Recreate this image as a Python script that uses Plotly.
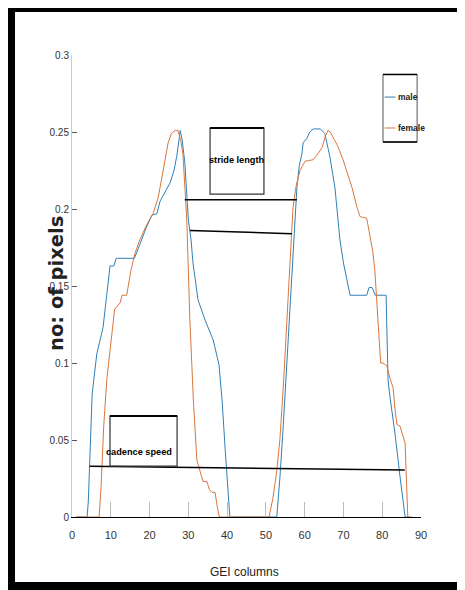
import plotly.graph_objects as go

# ---- data ----
male_x = [1, 3.9, 4.2, 4.6, 5.2, 6.4, 8.0, 9.0, 9.8, 10.8, 11.4, 12.1, 16.1, 17.5, 19.0,
          20.6, 21.9, 22.7, 24.0, 25.3, 26.3, 27.0, 27.5, 27.9, 28.4, 29.1, 30.0, 30.7,
          31.2, 32.5, 34.3, 36.4, 37.9, 38.7, 39.5, 40.7, 52.8, 53.6, 54.5, 55.4, 56.2,
          57.1, 58.0, 58.6, 59.3, 59.6, 60.6, 61.3, 62.2, 64.0, 65.2, 66.5, 67.8, 69.1,
          70.0, 70.9, 71.7, 76.0, 76.6, 77.4, 78.2, 81.0, 81.3, 81.5, 82.0, 83.3, 84.6,
          85.9, 87.0]
male_y = [0, 0, 0.01, 0.037, 0.08, 0.106, 0.123, 0.145, 0.163, 0.163, 0.168, 0.168, 0.168,
          0.177, 0.187, 0.196, 0.197, 0.205, 0.211, 0.217, 0.225, 0.234, 0.243, 0.251,
          0.245, 0.23, 0.193, 0.18, 0.165, 0.141, 0.128, 0.115, 0.099, 0.076, 0.044, 0,
          0, 0.025, 0.06, 0.1, 0.141, 0.18, 0.214, 0.228, 0.236, 0.243, 0.246, 0.25,
          0.252, 0.252, 0.249, 0.234, 0.214, 0.18, 0.165, 0.154, 0.144, 0.144, 0.149,
          0.149, 0.144, 0.144, 0.1, 0.089, 0.078, 0.054, 0.026, 0, 0]

female_x = [1, 7.0, 7.5, 8.2, 9.0, 10.3, 11.0, 12.4, 12.9, 14.1, 15.2, 16.2, 17.5, 19.3,
            20.9, 22.2, 23.5, 24.8, 25.6, 26.6, 27.3, 28.0, 28.6, 29.1, 29.6, 30.4, 30.9,
            31.3, 32.2, 33.0, 33.8, 34.8, 35.4, 36.1, 36.9, 37.5, 38.0, 50.8, 51.8, 52.8,
            53.6, 54.5, 55.4, 56.2, 57.0, 57.8, 58.8, 60.1, 62.2, 63.2, 64.5, 65.3, 66.0,
            66.6, 67.3, 68.5, 69.9, 71.0, 72.2, 73.5, 74.3, 76.0, 76.8, 77.6, 78.1, 78.6,
            79.0, 79.6, 80.2, 81.2, 82.0, 82.8, 83.3, 83.8, 84.6, 85.9, 86.3, 86.6, 87.6]
female_y = [0, 0, 0.02, 0.06, 0.09, 0.121, 0.135, 0.139, 0.144, 0.144, 0.16, 0.171, 0.18,
            0.19, 0.197, 0.207, 0.225, 0.243, 0.249, 0.251, 0.251, 0.245, 0.236, 0.215,
            0.193, 0.128, 0.1, 0.076, 0.037, 0.029, 0.023, 0.023, 0.018, 0.016, 0.016,
            0.006, 0, 0, 0.012, 0.03, 0.05, 0.085, 0.128, 0.17, 0.201, 0.215, 0.225, 0.231,
            0.232, 0.235, 0.24, 0.247, 0.251, 0.25, 0.247, 0.241, 0.232, 0.224, 0.214,
            0.201, 0.195, 0.194, 0.182, 0.172, 0.16, 0.14, 0.13, 0.1, 0.1, 0.098, 0.09,
            0.084, 0.07, 0.06, 0.059, 0.048, 0.02, 0, 0]

stride_line1_x = [29.1, 58.0]
stride_line1_y = [0.206, 0.206]
stride_line2_x = [30.4, 56.7]
stride_line2_y = [0.186, 0.184]
cadence_line_x = [4.6, 85.8]
cadence_line_y = [0.033, 0.0305]

x_ticks = [0, 10, 20, 30, 40, 50, 60, 70, 80, 90]
y_ticks = [0, 0.05, 0.1, 0.15, 0.2, 0.25, 0.3]
series_names = ["male", "female"]

MALE_C = "#2f80b6"
FEMALE_C = "#d9773f"
FONT = "Liberation Sans, Arial, sans-serif"

fig = go.Figure()
fig.add_trace(go.Scatter(x=male_x, y=male_y, mode="lines", name=series_names[0],
                         line=dict(color=MALE_C, width=1)))
fig.add_trace(go.Scatter(x=female_x, y=female_y, mode="lines", name=series_names[1],
                         line=dict(color=FEMALE_C, width=1)))
for lx, ly in [(stride_line1_x, stride_line1_y), (stride_line2_x, stride_line2_y),
               (cadence_line_x, cadence_line_y)]:
    fig.add_trace(go.Scatter(x=lx, y=ly, mode="lines", showlegend=False,
                             line=dict(color="black", width=1.5), hoverinfo="skip"))

shapes = [
    # white page inside the black frame
    dict(type="rect", xref="paper", yref="paper", x0=-0.1633, x1=1.1146, y0=-0.1407,
         y1=1.0931, fillcolor="white", line=dict(width=0), layer="below"),
    # text boxes
    dict(type="rect", xref="x", yref="y", x0=35.6, x1=49.5, y0=0.2097, y1=0.2526,
         line=dict(color="#333", width=1.2), fillcolor="rgba(0,0,0,0)"),
    dict(type="line", xref="x", yref="y", x0=35.6, x1=49.5, y0=0.2526, y1=0.2526,
         line=dict(color="black", width=2)),
    dict(type="rect", xref="x", yref="y", x0=9.8, x1=27.1, y0=0.0331, y1=0.0656,
         line=dict(color="#333", width=1.2), fillcolor="rgba(0,0,0,0)"),
    dict(type="line", xref="x", yref="y", x0=9.8, x1=27.1, y0=0.0656, y1=0.0656,
         line=dict(color="black", width=2)),
    # legend box
    dict(type="rect", xref="x", yref="y", x0=80.2, x1=89.0, y0=0.2435, y1=0.2874,
         line=dict(color="#555", width=1), fillcolor="white"),
    dict(type="line", xref="x", yref="y", x0=80.2, x1=89.0, y0=0.2874, y1=0.2874,
         line=dict(color="black", width=1.5)),
    dict(type="line", xref="x", yref="y", x0=80.2, x1=89.0, y0=0.2435, y1=0.2435,
         line=dict(color="black", width=1.5)),
    dict(type="line", xref="x", yref="y", x0=80.6, x1=83.4, y0=0.2727, y1=0.2727,
         line=dict(color=MALE_C, width=1)),
    dict(type="line", xref="x", yref="y", x0=80.6, x1=83.4, y0=0.2526, y1=0.2526,
         line=dict(color=FEMALE_C, width=1)),
]

annotations = [
    dict(text="<b>stride length</b>", x=42.55, y=0.232, xref="x", yref="y",
         showarrow=False, xanchor="center", yanchor="middle",
         font=dict(family=FONT, size=9.2, color="black")),
    dict(text="<b>cadence speed</b>", x=17.4, y=0.042, xref="x", yref="y",
         showarrow=False, xanchor="center", yanchor="middle",
         font=dict(family=FONT, size=9.2, color="black")),
    dict(text="<b>male</b>", x=83.5, y=0.2727, xref="x", yref="y", showarrow=False,
         font=dict(family=FONT, size=8.5, color="#222"), xanchor="left", yanchor="middle"),
    dict(text="<b>female</b>", x=83.5, y=0.2526, xref="x", yref="y", showarrow=False,
         font=dict(family=FONT, size=8.5, color="#222"), xanchor="left", yanchor="middle"),
    dict(text="<b>no: of pixels</b>", x=-0.045, y=0.505, xref="paper", yref="paper",
         showarrow=False, textangle=-90, xanchor="center", yanchor="middle",
         font=dict(family="DejaVu Sans", size=19.5, color="#222")),
    dict(text="GEI columns", x=0.495, y=-0.119, xref="paper", yref="paper",
         showarrow=False, xanchor="center", yanchor="middle",
         font=dict(family=FONT, size=12, color="#222")),
]

fig.update_layout(
    width=457, height=582, autosize=False,
    margin=dict(l=64, r=44, t=47, b=73),
    paper_bgcolor="black", plot_bgcolor="white",
    showlegend=False, shapes=shapes, annotations=annotations,
    xaxis=dict(range=[0, 90], tickvals=x_ticks, ticks="inside", ticklen=15,
               tickcolor="#bbbbbb", tickwidth=1, showline=True, linecolor="black",
               linewidth=1.2, showgrid=False, zeroline=False, ticklabelstandoff=8,
               tickfont=dict(family=FONT, size=11, color="#333")),
    yaxis=dict(range=[0, 0.3], tickvals=y_ticks, ticks="inside", ticklen=5,
               tickcolor="#555", tickwidth=1, showline=True, linecolor="#cccccc",
               linewidth=1, showgrid=False, zeroline=False,
               tickfont=dict(family=FONT, size=10, color="#333")),
)

fig.write_html("out.html")
